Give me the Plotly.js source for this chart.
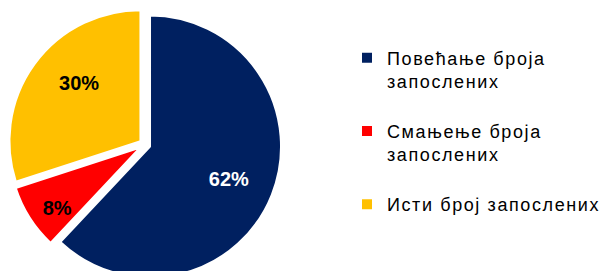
<!DOCTYPE html>
<html><head><meta charset="utf-8">
<script src="https://cdn.plot.ly/plotly-3.0.1.min.js"></script>
<style>html,body{margin:0;padding:0;overflow:hidden;background:#fff}#chart{width:600px;height:281px}</style>
</head><body><div id="chart"></div>
<script>
const categories = ["Повећање броја<br>запослених", "Смањење броја<br>запослених", "Исти број запослених"];
const values = [62, 8, 30];
const colors = ["#002060", "#FF0000", "#FFC000"];
const labelColors = ["#FFFFFF", "#000000", "#000000"];

const FONT = 'Arial, "Liberation Sans", sans-serif';
const NB = '\u00A0';
const legendLabels = categories.map(c => c.split('<br>').map(s => '<span style="letter-spacing:1.6px">' + s + '</span>').join('<br>') + '<br>' + NB);
const pullFrac = 0.042;

// label placement padding (invisible spacers only; the number itself comes from %{percent})
const textTemplates = [
  '<span style="font-size:9px">' + NB + '</span><br><span style="font-size:18.5px">' + NB.repeat(7) + '</span>%{percent}',
  '<sup><span style="font-size:20px">' + NB + '</span></sup>' + NB + '%{percent}',
  '%{percent}' + NB + '<br><span style="font-size:48px">' + NB + '</span>'
];

const trace = {
  type: 'pie',
  labels: legendLabels,
  values: values,
  sort: false,
  direction: 'clockwise',
  rotation: 0,
  pull: values.map(() => pullFrac),
  marker: {colors: colors, line: {color: '#FFFFFF', width: 2}},
  texttemplate: textTemplates,
  textposition: 'inside',
  insidetextorientation: 'horizontal',
  textfont: {family: FONT, size: 20, color: labelColors, weight: 'bold'},
  domain: {x: [0.014, 0.469], y: [0, 1]},
  hoverinfo: 'skip'
};

const layout = {
  width: 600, height: 281,
  margin: {l: 0, r: 0, t: 8, b: 0, pad: 0, autoexpand: false},
  paper_bgcolor: '#FFFFFF',
  showlegend: true,
  legend: {
    x: 0.5783, xanchor: 'left', y: 0.884, yanchor: 'top', valign: 'top',
    font: {family: FONT, size: 18, color: '#000000'},
    bgcolor: 'rgba(0,0,0,0)', traceorder: 'normal'
  }
};

Plotly.newPlot('chart', [trace], layout, {staticPlot: true, displayModeBar: false});
</script></body></html>
